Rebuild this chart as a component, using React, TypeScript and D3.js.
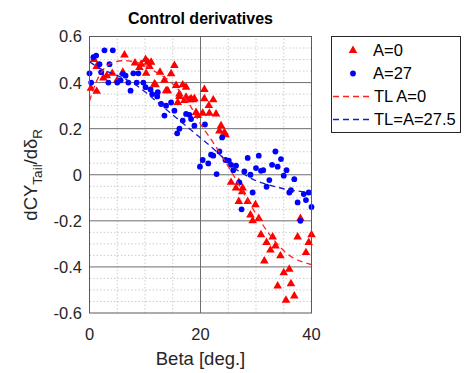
import React from "react";
import * as d3 from "d3";

const redX = [0.25,1.3,0.8,1.3,2.5,3.1,4.1,5.0,6.0,6.3,8.2,9.3,10.1,10.5,11.1,9.0,10.8,10.2,11.9,12.7,13.8,14.7,15.3,13.5,11.7,15.6,16.8,17.4,20.7,14.1,16.2,18.9,17.4,20.7,15.9,16.2,17.1,18.3,19.2,20.4,21.6,22.8,19.5,23.7,24.3,22.3,21.5,18.0,18.7,23.4,24.5,25.5,26.9,26.4,27.6,27.5,26.9,28.5,29.9,29.0,30.5,29.4,30.9,33.0,37.5,40.0,38.0,31.9,33.5,32.6,34.4,31.5,39.5,39.0,35.0,36.0,33.9,36.3,35.4,36.9];
const redY = [0.375,0.362,0.50,0.47,0.42,0.43,0.44,0.41,0.445,0.52,0.485,0.48,0.50,0.488,0.488,0.465,0.47,0.44,0.39,0.445,0.365,0.438,0.474,0.41,0.394,0.387,0.39,0.38,0.37,0.365,0.35,0.33,0.336,0.33,0.314,0.339,0.322,0.33,0.27,0.267,0.267,0.264,0.257,0.213,0.184,0.325,0.30,0.325,0.325,0.19,0.174,-0.033,-0.033,-0.058,-0.058,-0.074,-0.116,-0.116,-0.13,-0.175,-0.19,-0.20,-0.26,-0.27,-0.27,-0.26,-0.19,-0.294,-0.309,-0.327,-0.352,-0.374,-0.294,-0.338,-0.425,-0.41,-0.483,-0.473,-0.545,-0.526];

const blueX = [0,0.3,0.7,1.2,2.1,2.7,3.4,3.6,4.2,5.0,5.6,6.0,6.5,7.0,7.4,7.9,8.5,8.8,9.7,10.1,11.0,11.3,12.2,12.3,12.9,13.8,14.7,15.3,13.5,16.8,17.4,18.0,18.3,18.9,16.2,15.8,20.8,23.9,19.9,20.4,21.4,21.9,22.3,22.9,23.4,24.5,25.1,25.5,25.9,26.4,27.0,27.9,28.5,29.0,29.4,30.0,30.5,30.9,31.3,31.9,32.4,32.9,33.5,33.9,34.5,35.0,35.5,36.0,36.3,36.9,37.5,38.0,38.6,39.0,39.5,40.0,27.4,1.8];
const blueY = [0.44,0.40,0.51,0.517,0.445,0.54,0.40,0.48,0.54,0.40,0.41,0.438,0.43,0.40,0.365,0.44,0.40,0.44,0.40,0.38,0.37,0.35,0.34,0.358,0.307,0.30,0.314,0.278,0.257,0.235,0.264,0.26,0.242,0.213,0.20,0.18,0.218,0.162,0.035,0.064,0.049,0.087,0.083,0.003,0.101,0.064,0.061,0.043,0.02,0.039,-0.033,0.014,0.073,0.0,-0.077,0.029,0.083,0.017,0.02,-0.052,-0.023,0.043,0.101,0.035,0.068,-0.004,0.02,-0.077,-0.067,-0.019,-0.12,-0.2,-0.084,-0.11,-0.077,-0.14,-0.15,0.48];

const tlRedX = [0,1,2,3,4,6,8,10,12,14,16,18,20,22,24,26,28,30,32,34,36,38,40];
const tlRedY = [0.32,0.39,0.44,0.47,0.485,0.495,0.49,0.475,0.445,0.415,0.37,0.305,0.22,0.15,0.075,-0.005,-0.09,-0.17,-0.245,-0.305,-0.35,-0.375,-0.39];
const tlBlueX = [0,2,4,6,8,10,12,14,16,18,20,22,24,26,28,30,32,34,36,38,40];
const tlBlueY = [0.49,0.46,0.44,0.42,0.395,0.36,0.32,0.28,0.24,0.2,0.16,0.12,0.075,0.03,0.0,-0.026,-0.042,-0.055,-0.066,-0.072,-0.075];

const xTicks = [0, 20, 40];
const yTicks = [-0.6, -0.4, -0.2, 0, 0.2, 0.4, 0.6];
const legendLabels = ["A=0", "A=27", "TL A=0", "TL=A=27.5"];

const FONT = "'Liberation Sans', Arial, Helvetica, sans-serif";
const TXT = "#262626";

export default function App() {
  const x = d3.scaleLinear().domain([0, 40]).range([89.5, 311.5]);
  const y = d3.scaleLinear().domain([-0.6, 0.6]).range([313, 36.5]);
  const line = d3.line<[number, number]>().x(d => x(d[0])).y(d => y(d[1])).curve(d3.curveCatmullRom);
  const redLine = line(tlRedX.map((v, i) => [v, tlRedY[i]]));
  const blueLine = line(tlBlueX.map((v, i) => [v, tlBlueY[i]]));
  const tri = d3.symbol().type(d3.symbolTriangle).size(32)() as string;

  const minorX = d3.range(0, 40.01, 5).filter(v => v % 20 !== 0);
  const minorY = d3.range(-12, 13).map(i => i * 0.05).filter(v => Math.abs(Math.round(v * 100)) % 20 !== 0);
  const majorY = yTicks.slice(1, -1);

  const legY = [50.5, 73.5, 96.5, 119.5];

  return (
    <svg width={469} height={373} style={{ position: "absolute", left: 0, top: 0, background: "#fff" }} fontFamily={FONT}>
      <rect x={0} y={0} width={469} height={373} fill="#fff" />
      <g>
        {minorX.map(v => (
          <line key={"mx" + v} x1={x(v)} x2={x(v)} y1={y(-0.6)} y2={y(0.6)} stroke="#c0c0c0" strokeWidth={0.8} strokeDasharray="1.5,2" />
        ))}
        {minorY.map(v => (
          <line key={"my" + v} x1={x(0)} x2={x(40)} y1={y(v)} y2={y(v)} stroke="#c0c0c0" strokeWidth={0.8} strokeDasharray="1.5,2" />
        ))}
        <line x1={x(20)} x2={x(20)} y1={y(-0.6)} y2={y(0.6)} stroke="#6e6e6e" strokeWidth={1} />
        {majorY.map(v => (
          <line key={"My" + v} x1={x(0)} x2={x(40)} y1={y(v)} y2={y(v)} stroke="#6e6e6e" strokeWidth={1} />
        ))}
      </g>
      <g>
        {redX.map((v, i) => (
          <path key={"r" + i} d={tri} transform={`translate(${x(v)},${y(redY[i])})`} fill="#ff0000" />
        ))}
        {blueX.map((v, i) => (
          <circle key={"b" + i} cx={x(v)} cy={y(blueY[i])} r={2.9} fill="#0000ff" />
        ))}
      </g>
      <path d={redLine || ""} fill="none" stroke="#ff2020" strokeWidth={1.3} strokeDasharray="6,4" />
      <path d={blueLine || ""} fill="none" stroke="#1a1acc" strokeWidth={1.3} strokeDasharray="6,4" />
      <rect x={x(0)} y={y(0.6)} width={x(40) - x(0)} height={y(-0.6) - y(0.6)} fill="none" stroke="#5a5a5a" strokeWidth={1} />
      {yTicks.map(v => (
        <text key={"yt" + v} x={82} y={y(v)} dy="0.36em" textAnchor="end" fontSize={16.5} fill={TXT}>
          {v === 0 ? "0" : v.toFixed(1)}
        </text>
      ))}
      {xTicks.map(v => (
        <text key={"xt" + v} x={x(v)} y={339.5} textAnchor="middle" fontSize={16.5} fill={TXT}>
          {String(v)}
        </text>
      ))}
      <text x={x(20)} y={364.5} textAnchor="middle" fontSize={18.5} fill={TXT}>Beta [deg.]</text>
      <text transform={`translate(37,${(y(0.6) + y(-0.6)) / 2}) rotate(-90)`} textAnchor="middle" fontSize={18.5} fill={TXT}>
        dCY<tspan fontSize={13.5} dy={5}>Tail</tspan><tspan dy={-5}>/d</tspan>δ<tspan fontSize={13.5} dy={5}>R</tspan>
      </text>
      <text x={x(20)} y={24} textAnchor="middle" fontSize={16} fontWeight="bold" fill="#000">Control derivatives</text>
      <g>
        <rect x={331.5} y={36.5} width={129} height={96} fill="#fff" stroke="#262626" strokeWidth={1} />
        <path d={tri} transform={`translate(353,${legY[0]})`} fill="#ff0000" />
        <circle cx={353} cy={legY[1]} r={2.9} fill="#0000ff" />
        <line x1={333} x2={370} y1={legY[2]} y2={legY[2]} stroke="#ff2020" strokeWidth={1.3} strokeDasharray="6,4" />
        <line x1={333} x2={370} y1={legY[3]} y2={legY[3]} stroke="#1a1acc" strokeWidth={1.3} strokeDasharray="6,4" />
        {legendLabels.map((l, i) => (
          <text key={l} x={i < 2 ? 373 : 374} y={legY[i]} dy="0.36em" fontSize={16.5} fill="#000">{l}</text>
        ))}
      </g>
    </svg>
  );
}
